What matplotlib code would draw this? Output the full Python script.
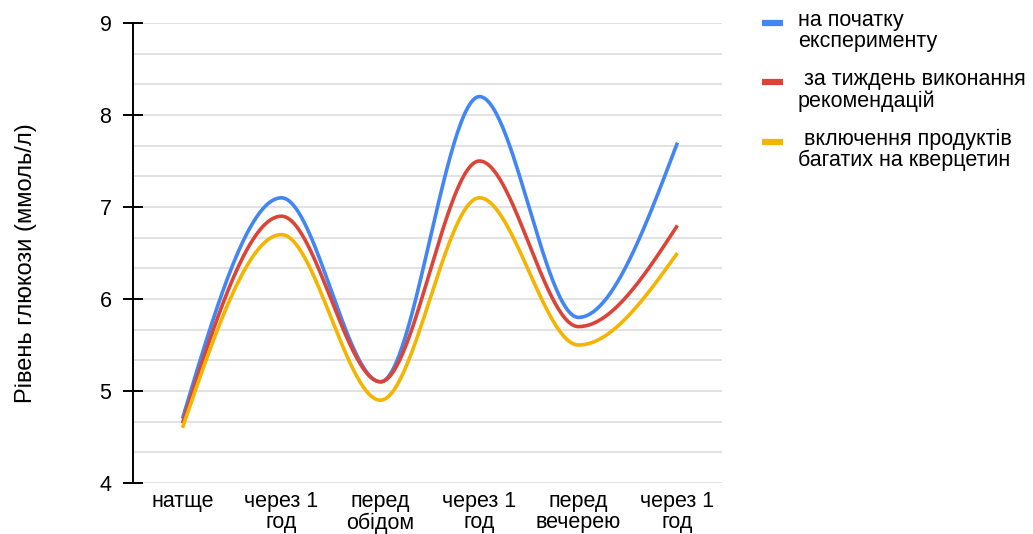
import matplotlib.pyplot as plt
import numpy as np
from matplotlib.lines import Line2D

plt.rcParams['font.family'] = ['Liberation Sans', 'DejaVu Sans']

categories = ['натще', 'через 1\nгод', 'перед\nобідом', 'через 1\nгод', 'перед\nвечерею', 'через 1\nгод']
start = [4.7, 7.1, 5.1, 8.2, 5.8, 7.7]
week = [4.65, 6.9, 5.1, 7.5, 5.7, 6.8]
quercetin = [4.6, 6.7, 4.9, 7.1, 5.5, 6.5]

labels = ['на початку\nексперименту', ' за тиждень виконання\nрекомендацій', ' включення продуктів\nбагатих на кверцетин']
colors = ['#4285F4', '#DB4437', '#F4B400']


def smooth(y, n=60):
    # hermite curve: flat at turning points, steeper at the ends
    y = np.asarray(y, dtype=float)
    k = len(y)
    m = np.zeros(k)
    for i in range(1, k - 1):
        if (y[i] - y[i - 1]) * (y[i + 1] - y[i]) > 0:
            m[i] = (y[i + 1] - y[i - 1]) / 2
    m[0] = 1.5 * (y[1] - y[0])
    m[-1] = 1.5 * (y[-1] - y[-2])
    xs, ys = [], []
    for i in range(k - 1):
        t = np.linspace(0, 1, n)
        h00 = 2 * t**3 - 3 * t**2 + 1
        h10 = t**3 - 2 * t**2 + t
        h01 = -2 * t**3 + 3 * t**2
        h11 = t**3 - t**2
        xs.append(i + t)
        ys.append(h00 * y[i] + h10 * m[i] + h01 * y[i + 1] + h11 * m[i + 1])
    return np.concatenate(xs), np.concatenate(ys)


W, H = 1033, 534
fig = plt.figure(figsize=(W / 100, H / 100), dpi=100)
ax = fig.add_axes([133 / W, 1 - 483 / H, (722 - 133) / W, (483 - 23) / H])

for series, c in zip([start, week, quercetin], colors):
    x, y = smooth(series)
    ax.plot(x, y, color=c, lw=2.6, solid_capstyle='butt')

ax.set_xlim(-0.5, 5.45)
ax.set_ylim(4, 9)
ax.set_yticks([4, 5, 6, 7, 8, 9])
ax.set_yticks(np.arange(4, 9.01, 1 / 3), minor=True)
ax.grid(which='both', axis='y', color='#dadada', lw=1.1)
ax.set_axisbelow(True)
ax.set_xticks(range(len(categories)))
ax.set_xticklabels(categories, fontsize=15.5, linespacing=1.0)
ax.tick_params(axis='x', length=0, pad=6)
ax.tick_params(axis='y', which='major', direction='inout', length=15, width=1.4, labelsize=15.5, pad=8)
ax.tick_params(axis='y', which='minor', length=0)
for s in ['top', 'right', 'bottom']:
    ax.spines[s].set_visible(False)
ax.spines['left'].set_linewidth(1.4)

fig.text(26 / W, 1 - 263 / H, 'Рівень глюкози (ммоль/л)', rotation=90,
         ha='center', va='center', fontsize=17)

# legend drawn by hand on the right
marker_y = [23, 82, 142]
for lab, c, my in zip(labels, colors, marker_y):
    fig.add_artist(Line2D([762 / W, 783 / W], [1 - my / H, 1 - my / H],
                          color=c, lw=4.5, solid_capstyle='butt'))
    fig.text(798 / W, 1 - (my - 13) / H, lab, ha='left', va='top',
             fontsize=15.5, linespacing=1.0)

plt.savefig('out.png', dpi=100)
